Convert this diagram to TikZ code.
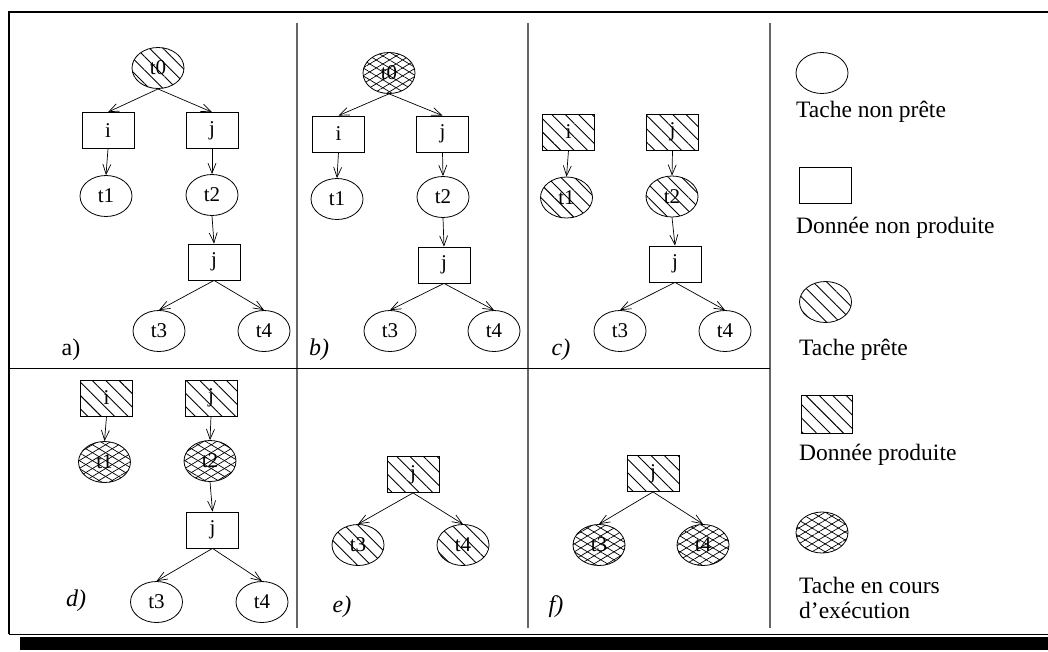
\documentclass[tikz,border=0pt]{standalone}
\usepackage{fontspec}
\setmainfont{Liberation Serif}
\usetikzlibrary{shapes.geometric,patterns.meta,arrows.meta}
\begin{document}
\begin{tikzpicture}[x=1pt,y=-1pt,
 every node/.style={font=\fontsize{21}{24}\selectfont},
 tache/.style={draw, ellipse, minimum width=52pt, minimum height=41pt, inner sep=0pt, line width=0.8pt},
 donnee/.style={draw, rectangle, minimum width=52pt, minimum height=36pt, inner sep=0pt, line width=0.8pt},
 hach/.style={pattern={Lines[angle=-45,distance=9.5pt,line width=0.9pt]}},
 croix/.style={pattern={Lines[angle=31,distance=6.8pt,line width=0.7pt]},
   postaction={pattern={Lines[angle=-31,distance=6.8pt,line width=0.7pt]}}},
 fl/.style={-{Straight Barb[length=10pt,width=8pt]}, line width=0.7pt},
 lbl/.style={font=\fontsize{24}{28}\selectfont\itshape},
 leg/.style={font=\fontsize{23.5}{28}\selectfont, anchor=base west, inner sep=0pt},
 sep/.style={draw=black!60, line width=1.3pt},
]
\useasboundingbox (0,0) rectangle (1048,651);
% frame
\draw[line width=2.3pt] (9,12) -- (1048,12);
\draw[line width=2pt] (9,11) -- (9,634);
\draw[line width=1pt] (9,634) -- (1048,634);
\fill (20,637) rectangle (1048,650);
% separators
\draw[sep] (297,23) -- (297,628);
\draw[sep] (528,23) -- (528,628);
\draw[sep] (770,23) -- (770,628);
\draw[line width=1pt] (9,368) -- (770,368);

% panel a
\node[tache,hach] (a0) at (158,68) {t0};
\node[donnee] (ai) at (108,130.5) {i};
\node[donnee] (aj) at (212,130.5) {j};
\node[tache] (a1) at (106,196) {t1};
\node[tache] (a2) at (212,195) {t2};
\node[donnee] (ak) at (214,262) {j};
\node[tache] (a3) at (159,331) {t3};
\node[tache] (a4) at (264,331) {t4};
\node[lbl,font=\fontsize{24}{28}\selectfont\upshape] (la) at (71,350) {a)};
\draw[fl] (a0.south) -- (ai.north);
\draw[fl] (a0.south) -- (aj.north);
\draw[fl] (ai.south) -- (a1.north);
\draw[fl] (aj.south) -- (a2.north);
\draw[fl] (a2.south) -- (ak.north);
\draw[fl] (ak.south) -- (a3.north);
\draw[fl] (ak.south) -- (a4.north);

% panel b
\node[tache,croix] (b0) at (389,73) {t0};
\node[donnee] (bi) at (338.5,134) {i};
\node[donnee] (bj) at (442.5,134) {j};
\node[tache] (b1) at (337,199) {t1};
\node[tache] (b2) at (443,197) {t2};
\node[donnee] (bk) at (444,265) {j};
\node[tache] (b3) at (390,331) {t3};
\node[tache] (b4) at (494,331) {t4};
\node[lbl] (lb) at (319,350) {b)};
\draw[fl] (b0.south) -- (bi.north);
\draw[fl] (b0.south) -- (bj.north);
\draw[fl] (bi.south) -- (b1.north);
\draw[fl] (bj.south) -- (b2.north);
\draw[fl] (b2.south) -- (bk.north);
\draw[fl] (bk.south) -- (b3.north);
\draw[fl] (bk.south) -- (b4.north);

% panel c
\node[donnee,hach] (ci) at (568.5,132) {i};
\node[donnee,hach] (cj) at (672.5,132) {j};
\node[tache,hach] (c1) at (566.5,197.5) {t1};
\node[tache,hach] (c2) at (672,196.5) {t2};
\node[donnee] (ck) at (675,264) {j};
\node[tache] (c3) at (620,331) {t3};
\node[tache] (c4) at (725,331) {t4};
\node[lbl] (lc) at (561,350) {c)};
\draw[fl] (ci.south) -- (c1.north);
\draw[fl] (cj.south) -- (c2.north);
\draw[fl] (c2.south) -- (ck.north);
\draw[fl] (ck.south) -- (c3.north);
\draw[fl] (ck.south) -- (c4.north);

% panel d
\node[donnee,hach] (di) at (106.5,398) {i};
\node[donnee,hach] (dj) at (211,398) {j};
\node[tache,croix] (d1) at (104.5,462) {t1};
\node[tache,croix] (d2) at (210,461) {t2};
\node[donnee] (dk) at (212.5,530) {j};
\node[tache] (d3) at (156.5,602) {t3};
\node[tache] (d4) at (262,602) {t4};
\node[lbl] (ld) at (76,601) {d)};
\draw[fl] (di.south) -- (d1.north);
\draw[fl] (dj.south) -- (d2.north);
\draw[fl] (d2.south) -- (dk.north);
\draw[fl] (dk.south) -- (d3.north);
\draw[fl] (dk.south) -- (d4.north);

% panel e
\node[donnee,hach] (ek) at (413,474.5) {j};
\node[tache,hach] (e3) at (358,545) {t3};
\node[tache,hach] (e4) at (463,545) {t4};
\node[lbl] (le) at (342,607) {e)};
\draw[fl] (ek.south) -- (e3.north);
\draw[fl] (ek.south) -- (e4.north);

% panel f
\node[donnee,hach] (fk) at (653,473.5) {j};
\node[tache,croix] (f3) at (599,545) {t3};
\node[tache,croix] (f4) at (703,545) {t4};
\node[lbl] (lf) at (556,607) {f)};
\draw[fl] (fk.south) -- (f3.north);
\draw[fl] (fk.south) -- (f4.north);

% legend
\node[tache] (g1) at (822,73) {};
\node[leg] (g1t) at (796,117) {Tache non prête};
\node[donnee] (g2) at (825,185) {};
\node[leg] (g2t) at (796,233) {Donnée non produite};
\node[tache,hach] (g3) at (825.5,302) {};
\node[leg] (g3t) at (799,355) {Tache prête};
\node[donnee,hach,minimum width=51pt,minimum height=38pt] (g4) at (826.5,414) {};
\node[leg] (g4t) at (799,460) {Donnée produite};
\node[tache,croix] (g5) at (822,532.5) {};
\node[leg] (g5t) at (799,593) {Tache en cours};
\node[leg] (g5u) at (799,618) {d’exécution};
\end{tikzpicture}
\end{document}
